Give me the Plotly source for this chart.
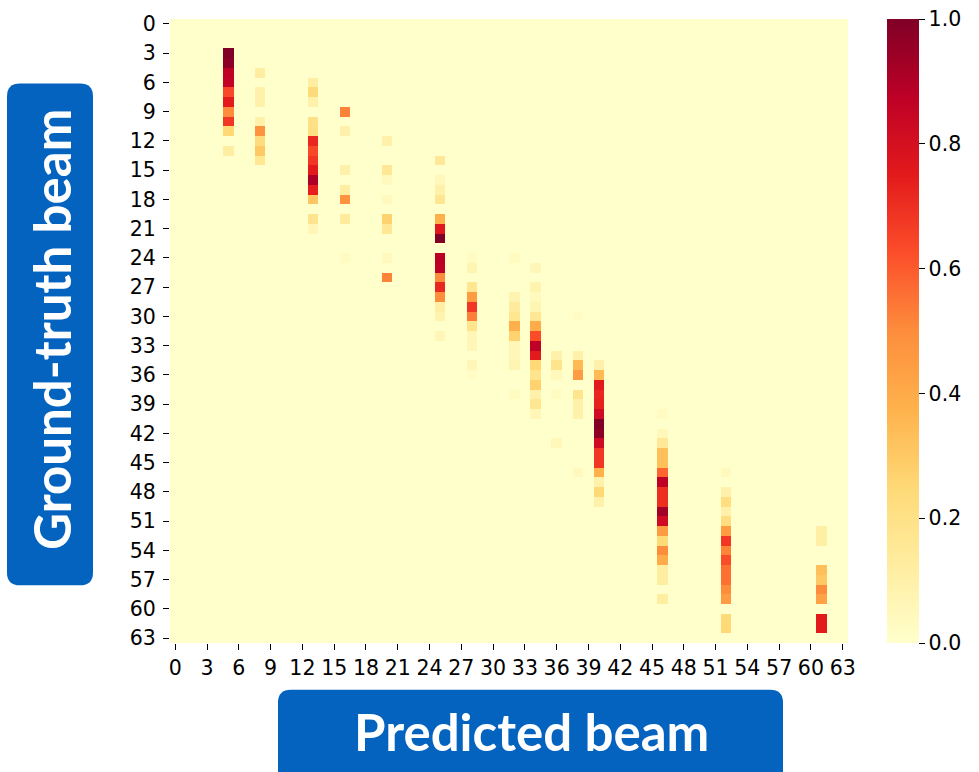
import plotly.graph_objects as go

N_BEAMS = 64
tick_vals = list(range(0, 64, 3))
tick_text = [str(v) for v in tick_vals]
cbar_ticks = [0.0, 0.2, 0.4, 0.6, 0.8, 1.0]
cbar_text = ["0.0", "0.2", "0.4", "0.6", "0.8", "1.0"]

# predicted-beam column -> (ground-truth rows, normalized values)
pred_05_rows = [3, 4, 5, 6, 7, 8, 9, 10, 11, 13]
pred_05_vals = [1.0, 0.98, 0.87, 0.86, 0.64, 0.75, 0.5, 0.68, 0.25, 0.12]
pred_08_rows = [5, 7, 8, 10, 11, 12, 13, 14]
pred_08_vals = [0.12, 0.1, 0.1, 0.1, 0.48, 0.23, 0.3, 0.16]
pred_13_rows = [6, 7, 8, 10, 11, 12, 13, 14, 15, 16, 17, 18, 20, 21]
pred_13_vals = [0.12, 0.24, 0.1, 0.2, 0.21, 0.72, 0.64, 0.68, 0.75, 0.91, 0.74, 0.31, 0.18, 0.06]
pred_16_rows = [9, 11, 15, 17, 18, 20, 24]
pred_16_vals = [0.52, 0.1, 0.1, 0.12, 0.48, 0.14, 0.03]
pred_20_rows = [12, 15, 16, 18, 20, 21, 24, 26]
pred_20_vals = [0.1, 0.16, 0.04, 0.04, 0.27, 0.16, 0.04, 0.52]
pred_25_rows = [14, 16, 17, 18, 20, 21, 22, 24, 25, 26, 27, 28, 29, 30, 32]
pred_25_vals = [0.15, 0.05, 0.1, 0.17, 0.38, 0.76, 1.0, 0.88, 0.87, 0.5, 0.72, 0.5, 0.11, 0.08, 0.06]
pred_28_rows = [24, 25, 27, 28, 29, 30, 31, 32, 33, 35, 36]
pred_28_vals = [0.03, 0.07, 0.17, 0.45, 0.68, 0.53, 0.18, 0.06, 0.06, 0.06, 0.02]
pred_32_rows = [24, 28, 29, 30, 31, 32, 33, 34, 35, 38]
pred_32_vals = [0.03, 0.08, 0.14, 0.17, 0.38, 0.27, 0.06, 0.06, 0.07, 0.03]
pred_34_rows = [25, 27, 28, 29, 30, 31, 32, 33, 34, 35, 36, 37, 38, 39, 40]
pred_34_vals = [0.06, 0.08, 0.04, 0.07, 0.16, 0.4, 0.63, 0.87, 0.75, 0.25, 0.18, 0.27, 0.1, 0.17, 0.06]
pred_36_rows = [34, 35, 36, 38, 43]
pred_36_vals = [0.1, 0.18, 0.05, 0.03, 0.05]
pred_38_rows = [30, 34, 35, 36, 38, 39, 40, 46]
pred_38_vals = [0.02, 0.1, 0.35, 0.45, 0.18, 0.1, 0.1, 0.04]
pred_40_rows = [35, 36, 37, 38, 39, 40, 41, 42, 43, 44, 45, 46, 47, 48, 49]
pred_40_vals = [0.1, 0.35, 0.75, 0.72, 0.73, 0.82, 1.0, 0.97, 0.82, 0.68, 0.68, 0.38, 0.1, 0.25, 0.1]
pred_46_rows = [40, 42, 43, 44, 45, 46, 47, 48, 49, 50, 51, 52, 53, 54, 55, 56, 57, 59]
pred_46_vals = [0.03, 0.05, 0.15, 0.33, 0.33, 0.58, 0.87, 0.7, 0.7, 0.93, 0.82, 0.45, 0.24, 0.5, 0.4, 0.12, 0.12, 0.12]
pred_52_rows = [46, 48, 49, 50, 51, 52, 53, 54, 55, 56, 57, 58, 59, 61, 62]
pred_52_vals = [0.04, 0.1, 0.22, 0.1, 0.22, 0.45, 0.68, 0.52, 0.63, 0.56, 0.56, 0.5, 0.45, 0.24, 0.25]
pred_61_rows = [52, 53, 56, 57, 58, 59, 61, 62]
pred_61_vals = [0.11, 0.11, 0.33, 0.3, 0.5, 0.43, 0.75, 0.75]

columns = {
    5: (pred_05_rows, pred_05_vals),
    8: (pred_08_rows, pred_08_vals),
    13: (pred_13_rows, pred_13_vals),
    16: (pred_16_rows, pred_16_vals),
    20: (pred_20_rows, pred_20_vals),
    25: (pred_25_rows, pred_25_vals),
    28: (pred_28_rows, pred_28_vals),
    32: (pred_32_rows, pred_32_vals),
    34: (pred_34_rows, pred_34_vals),
    36: (pred_36_rows, pred_36_vals),
    38: (pred_38_rows, pred_38_vals),
    40: (pred_40_rows, pred_40_vals),
    46: (pred_46_rows, pred_46_vals),
    52: (pred_52_rows, pred_52_vals),
    61: (pred_61_rows, pred_61_vals),
}

z = [[0.0] * N_BEAMS for _ in range(N_BEAMS)]
for col, (rows, vals) in columns.items():
    for r, v in zip(rows, vals):
        z[r][col] = v

ylorrd = [
    [0.0, "#ffffcc"], [0.125, "#ffeda0"], [0.25, "#fed976"], [0.375, "#feb24c"],
    [0.5, "#fd8d3c"], [0.625, "#fc4e2a"], [0.75, "#e31a1c"], [0.875, "#bd0026"],
    [1.0, "#800026"],
]

W, H = 979, 772
L, R, T, B = 170, 131, 15, 129
PW, PH = W - L - R, H - T - B


def px(x):
    return (x - L) / PW


def py(y):
    return (H - B - y) / PH


def rounded_rect(x0, y0, x1, y1, r):
    # pixel coords (y downward) -> paper path
    pts = [
        ("M", (x0 + r, y0)),
        ("L", (x1 - r, y0)),
        ("Q", (x1, y0), (x1, y0 + r)),
        ("L", (x1, y1 - r)),
        ("Q", (x1, y1), (x1 - r, y1)),
        ("L", (x0 + r, y1)),
        ("Q", (x0, y1), (x0, y1 - r)),
        ("L", (x0, y0 + r)),
        ("Q", (x0, y0), (x0 + r, y0)),
    ]
    parts = []
    for p in pts:
        cmd = p[0]
        coords = " ".join(f"{px(a):.5f},{py(b):.5f}" for a, b in p[1:])
        parts.append(f"{cmd} {coords}")
    return " ".join(parts) + " Z"


BLUE = "#0563C0"
tick_font = dict(family="DejaVu Sans", size=20.5, color="black")

fig = go.Figure(
    go.Heatmap(
        z=z,
        x=list(range(N_BEAMS)),
        y=list(range(N_BEAMS)),
        zmin=0,
        zmax=1,
        colorscale=ylorrd,
        colorbar=dict(
            x=px(887),
            xanchor="left",
            y=0.5,
            yanchor="middle",
            len=1,
            lenmode="fraction",
            thickness=32,
            xpad=0,
            ypad=0,
            outlinewidth=0,
            ticks="outside",
            ticklen=6,
            tickwidth=1.2,
            tickcolor="black",
            tickvals=cbar_ticks,
            ticktext=cbar_text,
            tickfont=tick_font,
        ),
        hoverongaps=False,
    )
)

fig.update_layout(
    width=W,
    height=H,
    margin=dict(l=L, r=R, t=T, b=B),
    paper_bgcolor="white",
    plot_bgcolor="#ffffcc",
    xaxis=dict(
        range=[-0.5, 63.5],
        tickvals=tick_vals,
        ticktext=tick_text,
        ticks="outside",
        ticklen=6,
        tickwidth=1.2,
        tickcolor="black",
        tickfont=tick_font,
        tickangle=0,
        showgrid=False,
        zeroline=False,
        showline=False,
    ),
    yaxis=dict(
        range=[63.5, -0.5],
        tickvals=tick_vals,
        ticktext=tick_text,
        ticks="outside",
        ticklen=6,
        tickwidth=1.2,
        tickcolor="black",
        tickfont=tick_font,
        ticklabelstandoff=3,
        showgrid=False,
        zeroline=False,
        showline=False,
    ),
    shapes=[
        dict(type="path", xref="paper", yref="paper", path=rounded_rect(7, 80, 93, 585, 13),
             fillcolor=BLUE, line=dict(width=0), layer="below"),
        dict(type="path", xref="paper", yref="paper", path=rounded_rect(278, 690, 783, 790, 13),
             fillcolor=BLUE, line=dict(width=0), layer="below"),
    ],
    annotations=[
        dict(text="<b>Ground-truth beam</b>", xref="paper", yref="paper",
             x=px(51), y=py(328), xanchor="center", yanchor="middle",
             textangle=-90, showarrow=False,
             font=dict(family="Lato", size=51, color="white")),
        dict(text="<b>Predicted beam</b>", xref="paper", yref="paper",
             x=px(531), y=py(732), xanchor="center", yanchor="middle",
             showarrow=False,
             font=dict(family="Lato", size=51, color="white")),
    ],
)

fig.write_html(
    "out.html",
    config={"displayModeBar": False},
    post_script="document.body.style.margin='0';document.body.style.overflow='hidden';",
)
